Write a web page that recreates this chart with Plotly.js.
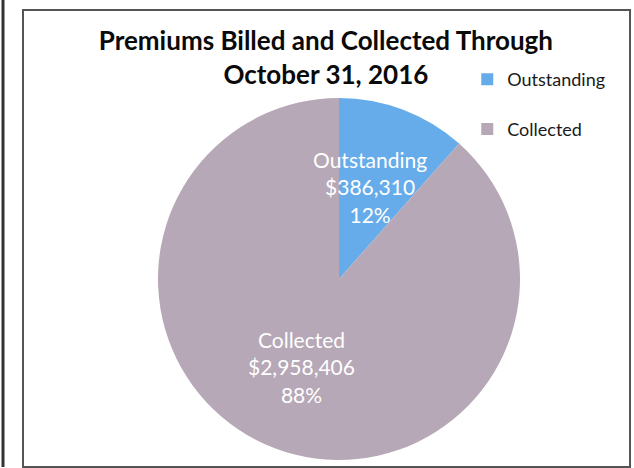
<!DOCTYPE html>
<html>
<head>
<meta charset="utf-8">
<script src="https://cdn.plot.ly/plotly-3.0.1.min.js"></script>
<style>html,body{margin:0;padding:0;background:#fff;}#chart{width:634px;height:468px;}</style>
</head>
<body>
<div id="chart"></div>
<script>
// Data
var labels = ["Outstanding", "Collected"];
var values = [386310, 2958406];
var colors = ["#66acea", "#b6a8b6"];
var titleText = "Premiums Billed and Collected Through<br>October 31, 2016";

var W = 634, H = 468;
var domX = [0.2492, 0.8202];
var domY = [0.0171, 0.7906];

var total = values.reduce(function(a, b){ return a + b; }, 0);
function fmt(n){ return "$" + n.toLocaleString("en-US"); }

// legend labels (extra blank line to match the reference's item spacing)
var legendLabels = labels.map(function(l){ return l + "<br> "; });

// slice label annotations computed from pie geometry
var cx = (domX[0] + domX[1]) / 2 * W;
var cy = (1 - (domY[0] + domY[1]) / 2) * H;
var R = Math.min((domX[1] - domX[0]) * W, (domY[1] - domY[0]) * H) / 2;
var annotations = [];
var cum = 0;
for (var i = 0; i < values.length; i++) {
  var mid = (cum + values[i] / 2) / total * 2 * Math.PI;
  cum += values[i];
  var px = cx + 0.53 * R * Math.sin(mid) - 3;
  var py = cy - 0.53 * R * Math.cos(mid) - 2;
  annotations.push({
    xref: "paper", yref: "paper",
    x: px / W, y: 1 - py / H,
    xanchor: "center", yanchor: "middle",
    showarrow: false,
    text: labels[i] + "<br>" + fmt(values[i]) + "<br>" + Math.round(values[i] / total * 100) + "%",
    font: {family: "Lato, sans-serif", size: 21, color: "#ffffff"}
  });
}

var trace = {
  type: "pie",
  labels: legendLabels,
  values: values,
  sort: false,
  direction: "clockwise",
  rotation: 0,
  marker: {colors: colors, line: {width: 0}},
  textinfo: "none",
  hoverinfo: "none",
  domain: {x: domX, y: domY}
};

var layout = {
  width: W, height: H,
  margin: {l: 0, r: 0, t: 0, b: 0},
  paper_bgcolor: "#ffffff",
  title: {
    text: titleText,
    x: 0.514, xanchor: "center",
    y: 0.893, yanchor: "middle",
    yref: "paper",
    font: {family: "Lato, sans-serif", size: 26, color: "#0a0a0a", weight: "bold"}
  },
  showlegend: true,
  legend: {
    x: 0.737, xanchor: "left",
    y: 1 - 61 / H, yanchor: "top",
    valign: "top",
    font: {family: "Lato, sans-serif", size: 18, color: "#1a1a1a"},
    bgcolor: "rgba(0,0,0,0)"
  },
  annotations: annotations,
  shapes: [
    {type: "rect", xref: "paper", yref: "paper",
     x0: 23 / W, x1: 630 / W, y0: 1 - 467 / H, y1: 1 - 10 / H,
     line: {color: "#555555", width: 2}, fillcolor: "rgba(0,0,0,0)"},
    {type: "line", xref: "paper", yref: "paper",
     x0: 3 / W, x1: 3 / W, y0: 1 - 467 / H, y1: 1,
     line: {color: "#333333", width: 3}}
  ]
};

Plotly.newPlot("chart", [trace], layout, {displayModeBar: false, staticPlot: true});
</script>
</body>
</html>
